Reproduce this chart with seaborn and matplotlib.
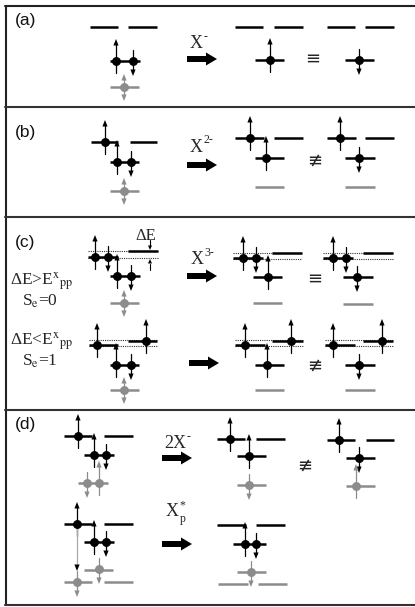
import matplotlib
matplotlib.use("Agg")
import matplotlib.pyplot as plt
import seaborn as sns
from matplotlib.patches import Polygon, FancyArrow

sns.set_theme(style="white")
plt.rcParams["mathtext.fontset"] = "stix"

K = "#000000"
G = "#8c8c8c"

# ---- diagram data (pixel units) ----
panel_lines = [107, 217, 410, 605]
panel_labels = [("(a)", 15, 21), ("(b)", 15, 133), ("(c)", 15, 243), ("(d)", 15, 424)]

black_levels = [
    # (a)
    (90, 118, 27), (128, 157, 27), (110, 140, 61),
    (235, 263, 27), (274, 303, 27), (327, 355, 27), (365, 394, 27),
    (255, 284, 60), (345, 374, 60),
    # (b)
    (91, 118, 142), (130, 157, 142), (110, 139, 162),
    (235, 264, 138), (274, 303, 138), (255, 284, 158),
    (327, 356, 138), (365, 394, 138), (345, 375, 158),
    # (c) upper
    (88, 118, 257), (128, 158, 251), (110, 140, 276),
    (233, 263, 258), (272, 302, 253), (253, 282, 277),
    (323, 353, 258), (363, 393, 253), (343, 373, 277),
    # (c) lower
    (89, 118, 345), (128, 157, 341), (110, 139, 365),
    (235, 265, 345), (272, 303, 341), (255, 284, 365),
    (325, 355, 345), (363, 393, 341), (345, 375, 365),
    # (d) upper
    (64, 92, 436), (104, 133, 436), (84, 114, 455),
    (217, 245, 439), (256, 285, 439), (237, 266, 456),
    (327, 355, 440), (366, 394, 440), (346, 375, 458),
    # (d) lower
    (64, 92, 524), (104, 133, 524), (84, 114, 542),
    (217, 246, 525), (256, 285, 525), (233, 266, 544),
]

gray_levels = [
    (110, 139, 87),
    (110, 139, 191), (255, 284, 187), (345, 375, 187),
    (110, 139, 303), (253, 282, 303), (343, 373, 304),
    (110, 139, 390), (255, 284, 390), (345, 375, 390),
    (78, 108, 483), (237, 266, 485), (346, 375, 486),
    (84, 113, 570), (64, 92, 582), (104, 133, 582),
    (237, 266, 572), (218, 248, 584), (258, 287, 584),
]

dotted_levels = [
    (88, 158, 251), (88, 158, 258), (233, 302, 253), (233, 302, 259),
    (323, 393, 253), (323, 393, 259),
    (89, 158, 340), (89, 158, 346), (235, 303, 340), (235, 303, 346),
    (325, 393, 340), (325, 393, 346),
]

# (x, y, direction, colour)
spins = [
    (116, 61, "u", K), (133, 61, "d", K), (124, 87, "ud", G),
    (270, 60, "u", K), (359, 60, "d", K),
    (105, 142, "u", K), (117, 162, "u", K), (131, 162, "d", K), (124, 191, "ud", G),
    (250, 138, "u", K), (266, 158, "u", K), (340, 138, "u", K), (359, 158, "d", K),
    (95, 257, "u", K), (108, 257, "d", K), (117, 276, "u", K), (131, 276, "d", K), (124, 303, "ud", G),
    (243, 258, "u", K), (256, 258, "d", K), (268, 277, "u", K),
    (333, 258, "u", K), (346, 258, "d", K), (357, 277, "d", K),
    (97, 345, "u", K), (146, 341, "u", K), (116, 365, "u", K), (131, 365, "d", K), (124, 390, "ud", G),
    (245, 345, "u", K), (291, 341, "u", K), (267, 365, "u", K),
    (333, 345, "u", K), (382, 341, "u", K), (359, 365, "d", K),
    (78, 436, "u", K), (94, 455, "u", K), (106, 455, "d", K), (87, 483, "d", G), (99, 483, "u", G),
    (230, 439, "u", K), (249, 456, "u", K), (249, 485, "d", G),
    (339, 440, "u", K), (359, 458, "d", K), (356, 486, "u", G),
    (77, 524, "u", K), (94, 542, "u", K), (106, 542, "d", K), (99, 569, "d", G), (77, 582, "d", G),
    (245, 544, "u", K), (256, 544, "d", K), (251, 572, "d", G),
]

big_arrows = [(187, 59), (187, 165), (187, 276), (189, 363), (162, 458), (162, 544)]
# (base, superscript, subscript, left x, centre y)
arrow_labels = [("X", "-", "", 190, 44), ("X", "2-", "", 190, 147), ("X", "3-", "", 191, 260),
                ("2X", "-", "", 164, 444), ("X", "*", "p", 166, 512)]
base_widths = {"X": 13.0, "2X": 22.0}
relations = [("≡", 313, 59), ("≢", 315, 161), ("≡", 315, 279), ("≢", 315, 366), ("≢", 305, 466)]

fig = plt.figure(figsize=(4.15, 6.07), dpi=100)
ax = fig.add_axes([0, 0, 1, 1])
ax.set_xlim(0, 415)
ax.set_ylim(607, 0)
ax.axis("off")

# frame
ax.plot([5.5, 5.5], [5, 606], color="#222222", lw=1.5, solid_capstyle="butt")
ax.plot([5, 415], [5.5, 5.5], color="#222222", lw=1.5)
for yy in panel_lines:
    ax.plot([5, 415], [yy, yy], color="#333333", lw=1.5)

for t, x, y in panel_labels:
    ax.text(x, y, t, fontsize=12.5, family="Liberation Sans", ha="left", va="center", color="#111111")

for x0, x1, y in dotted_levels:
    ax.plot([x0, x1], [y, y], color="#333333", lw=0.8, ls=(0, (1, 1)))
for x0, x1, y in black_levels:
    ax.plot([x0, x1], [y, y], color=K, lw=1.8, solid_capstyle="butt")
for x0, x1, y in gray_levels:
    ax.plot([x0, x1], [y, y], color=G, lw=1.8, solid_capstyle="butt")


def head(x, ytip, direction, c, hw=2.6, hl=6.5):
    s = -1 if direction == "up" else 1
    ax.add_patch(Polygon([[x, ytip], [x - hw, ytip - s * hl], [x + hw, ytip - s * hl]],
                         closed=True, color=c, lw=0, zorder=4))


for x, y, d, c in spins:
    if d == "u":
        ax.plot([x, x], [y + 12, y - 17], color=c, lw=0.9, zorder=3)
        head(x, y - 22, "up", c)
    elif d == "d":
        ax.plot([x, x], [y - 11, y + 10], color=c, lw=0.9, zorder=3)
        head(x, y + 15, "down", c)
    else:
        ax.plot([x, x], [y - 8, y + 9], color=c, lw=0.9, zorder=3)
        head(x, y - 13, "up", c)
        head(x, y + 14, "down", c)
    ax.plot([x], [y], marker="o", ms=5.4, color=c, mec=c, zorder=5)

# long flip in (d)
ax.plot([77, 77], [526, 565], color="#aaaaaa", lw=0.9, zorder=3)
head(77, 571, "down", K)

# delta E markers
ax.plot([150, 150], [240, 246], color=K, lw=0.8)
head(150, 250, "down", K, hw=2, hl=4.5)
ax.plot([150, 150], [270, 264], color=K, lw=0.8)
head(150, 259, "up", K, hw=2, hl=4.5)
ax.text(146, 236, "ΔE", fontsize=12, family="Liberation Serif", ha="center", va="center")

for x, y in big_arrows:
    ax.add_patch(FancyArrow(x, y, 30, 0, width=6, head_width=13, head_length=11,
                            length_includes_head=True, color=K, lw=0))

SERIF = "Liberation Serif"
for base, sup, sub, x, y in arrow_labels:
    ax.text(x, y, base, fontsize=13, family=SERIF, ha="left", va="center")
    w = base_widths[base]
    if sup:
        ax.text(x + w + 0.5, y - 7, sup, fontsize=8.5, family=SERIF, ha="left", va="center")
    if sub:
        ax.text(x + w + 0.5, y + 7, sub, fontsize=8.5, family=SERIF, ha="left", va="center")

for t, x, y in relations:
    ax.text(x, y, t, fontsize=13, family="DejaVu Sans", ha="center", va="center")

ax.text(10, 282, r"ΔE>E$^{\rm x}$$_{\rm pp}$", fontsize=12.5, family=SERIF, ha="left", va="center")
ax.text(22, 301, r"S$_{\rm e}$=0", fontsize=12.5, family=SERIF, ha="left", va="center")
ax.text(10, 342, r"ΔE<E$^{\rm x}$$_{\rm pp}$", fontsize=12.5, family=SERIF, ha="left", va="center")
ax.text(22, 361, r"S$_{\rm e}$=1", fontsize=12.5, family=SERIF, ha="left", va="center")

fig.savefig("out.png", dpi=100, facecolor="white")
